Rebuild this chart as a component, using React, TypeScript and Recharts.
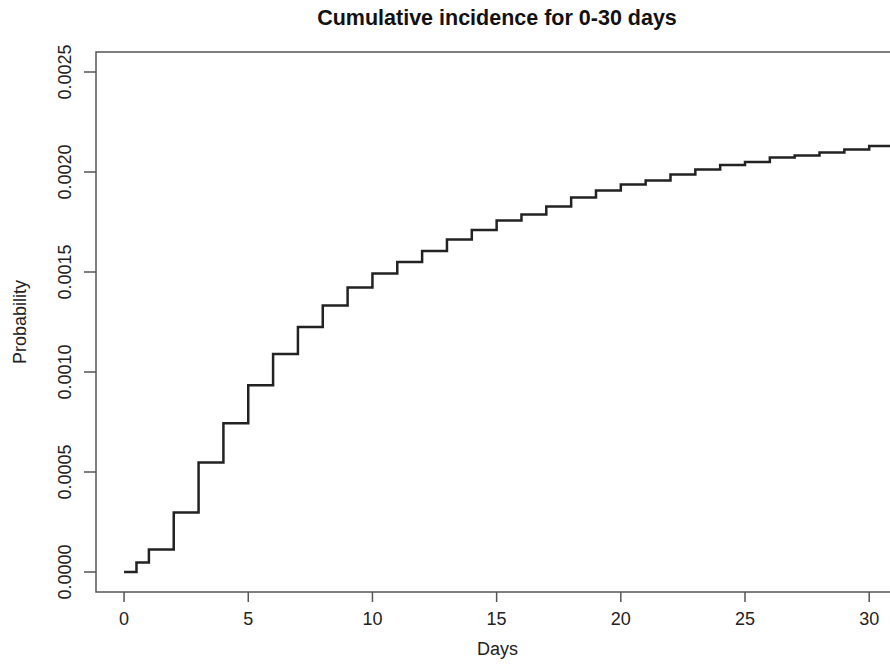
import { LineChart, Line, XAxis, YAxis, ReferenceArea, Label } from "recharts"

// Kaplan-Meier style cumulative incidence
const days = [0, 0.5, 1, 2, 3, 4, 5, 6, 7, 8, 9, 10, 11, 12, 13, 14, 15, 16, 17, 18, 19, 20, 21, 22, 23, 24, 25, 26, 27, 28, 29, 30, 31.2]
const probability = [
  0, 0.000047, 0.000113, 0.000297, 0.000547, 0.000744, 0.000934, 0.00109, 0.001225, 0.001333,
  0.001422, 0.001493, 0.00155, 0.001605, 0.001663, 0.00171, 0.001757, 0.001787, 0.001828, 0.001873,
  0.001907, 0.001938, 0.001958, 0.001988, 0.002013, 0.002035, 0.00205, 0.002072, 0.002083, 0.002097,
  0.002113, 0.00213, 0.00213,
]
const xTicks = [0, 5, 10, 15, 20, 25, 30]
const yTicks = [0, 0.0005, 0.001, 0.0015, 0.002, 0.0025]

const title = "Cumulative incidence for 0-30 days"
const xTitle = "Days"
const yTitle = "Probability"

const data = days.map((d, i) => ({ day: d, p: probability[i] }))

const FONT = "'Liberation Sans', Arial, Helvetica, sans-serif"
const AXIS = "#555"

const XTick = ({ x, y, payload }: any) => (
  <text x={x} y={y} dy={23} textAnchor="middle" fontSize={18} fontFamily={FONT} fill="#222">
    {payload.value}
  </text>
)

const YTick = ({ x, y, payload }: any) => (
  <text
    x={x - 13}
    y={y}
    transform={`rotate(-90, ${x - 13}, ${y})`}
    textAnchor="middle"
    fontSize={18}
    fontFamily={FONT}
    fill="#222"
  >
    {Number(payload.value).toFixed(4)}
  </text>
)

export default function App() {
  return (
    <div style={{ position: "relative", width: 890, height: 667, overflow: "hidden", background: "#fff" }}>
      <style>{`body{margin:0}`}</style>
      <svg width={890} height={40} style={{ position: "absolute", left: 0, top: 0 }}>
        <text x={497} y={25} textAnchor="middle" fontSize={21.5} fontWeight="bold" fontFamily={FONT} fill="#111">
          {title}
        </text>
      </svg>
      <div style={{ position: "absolute", left: 0, top: 0 }}>
        <LineChart width={910} height={667} data={data} margin={{ top: 52, right: 11, bottom: 0, left: 0 }}>
          <XAxis
            type="number"
            dataKey="day"
            domain={[-1.13, 31.2]}
            ticks={xTicks}
            allowDataOverflow
            height={75}
            axisLine={false}
            tickLine={{ stroke: AXIS, strokeWidth: 1.5 }}
            tickSize={10}
            tickMargin={0}
            tick={<XTick />}
          >
            <Label
              content={({ viewBox }: any) => (
                <text
                  x={viewBox.x + viewBox.width / 2}
                  y={viewBox.y + 63}
                  textAnchor="middle"
                  fontSize={18}
                  fontFamily={FONT}
                  fill="#222"
                >
                  {xTitle}
                </text>
              )}
            />
          </XAxis>
          <YAxis
            type="number"
            domain={[-0.0001, 0.0026]}
            ticks={yTicks}
            allowDataOverflow
            width={96}
            axisLine={false}
            tickLine={{ stroke: AXIS, strokeWidth: 1.5 }}
            tickSize={12}
            tickMargin={0}
            tick={<YTick />}
          >
            <Label
              content={({ viewBox }: any) => {
                const cy = viewBox.y + viewBox.height / 2
                return (
                  <text
                    x={26}
                    y={cy}
                    transform={`rotate(-90, 26, ${cy})`}
                    textAnchor="middle"
                    fontSize={18}
                    fontFamily={FONT}
                    fill="#222"
                  >
                    {yTitle}
                  </text>
                )
              }}
            />
          </YAxis>
          <ReferenceArea
            x1={-1.13}
            x2={31.2}
            y1={-0.0001}
            y2={0.0026}
            fill="none"
            fillOpacity={0}
            stroke={AXIS}
            strokeWidth={1.5}
          />
          <Line
            type="stepAfter"
            dataKey="p"
            stroke="#222"
            strokeWidth={2.5}
            dot={false}
            activeDot={false}
            isAnimationActive={false}
          />
        </LineChart>
      </div>
    </div>
  )
}
